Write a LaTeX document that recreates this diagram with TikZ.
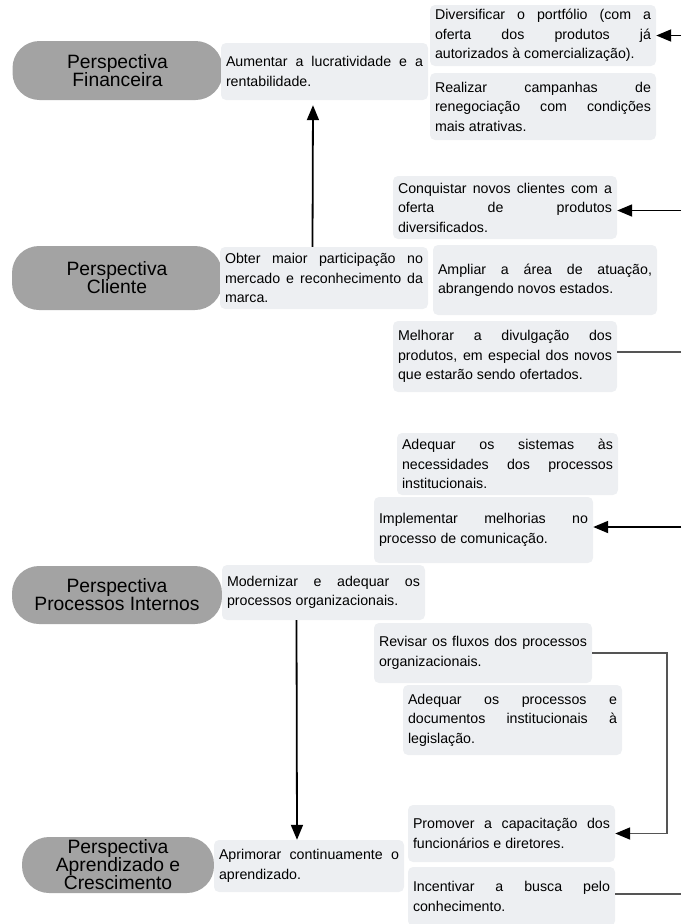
\documentclass[tikz,border=0pt]{standalone}
\usepackage{fontspec}
\setmainfont{Liberation Sans}
\usetikzlibrary{arrows.meta}
\definecolor{blobgray}{HTML}{A3A3A3}
\definecolor{boxfill}{HTML}{EDEFF2}
\definecolor{linegray}{HTML}{555555}
\hbadness=10000
\hyphenpenalty=10000

\tikzset{
  persp/.style={fill=blobgray, rounded corners=27pt, inner sep=0pt,
    minimum width=210pt, align=center, font=\fontsize{19.3}{18}\selectfont},
  obj/.style={fill=boxfill, rounded corners=5pt, inner xsep=5pt, inner ysep=2pt,
    align=justify, font=\fontsize{14.2}{19.5}\selectfont},
  arr/.style={line width=1.8pt, -{Triangle[length=15pt,width=12pt,color=black,fill=black]}},
  grayline/.style={line width=2pt, draw=linegray},
}

\begin{document}
\begin{tikzpicture}[x=1pt,y=-1pt]
    \useasboundingbox (0,0) rectangle (681,924);
    \coordinate (redge) at (681,0);
    \coordinate (bend) at (667,0);

    \node[persp, minimum height=59pt] (fin) at (117.5,70.5) {Perspectiva\\Financeira};
    \node[persp, minimum height=64pt] (cli) at (117,278) {Perspectiva\\Cliente};
    \node[persp, minimum height=58pt] (pro) at (117,595) {Perspectiva\\Processos Internos};
    \node[persp, minimum height=56pt, minimum width=192pt] (apr) at (118,865) {Perspectiva\\Aprendizado e\\Crescimento};

    \node[obj, text width=197pt, minimum height=57pt] (aum) at (324.5,71.5) {Aumentar a lucratividade e a\linebreak rentabilidade.};
    \node[obj, text width=216pt, minimum height=61pt] (div) at (543,35.5) {Diversificar o portfólio (com a\linebreak oferta dos produtos já\linebreak autorizados à comercialização).};
    \node[obj, text width=216pt, minimum height=67pt] (ren) at (543,106.5) {Realizar campanhas de\linebreak renegociação com condições\linebreak mais atrativas.};

    \node[obj, text width=214pt, minimum height=63pt] (con) at (505,207.5) {Conquistar novos clientes com a\linebreak oferta de produtos\linebreak diversificados.};
    \node[obj, text width=198pt, minimum height=62pt] (obt) at (324,278) {Obter maior participação no\linebreak mercado e reconhecimento da\linebreak marca.};
    \node[obj, text width=214pt, minimum height=70pt] (amp) at (545,280) {Ampliar a área de atuação,\linebreak abrangendo novos estados.};
    \node[obj, text width=214pt, minimum height=71pt] (mel) at (505,356.5) {Melhorar a divulgação dos\linebreak produtos, em especial dos novos\linebreak que estarão sendo ofertados.};

    \node[obj, text width=211pt, minimum height=62pt] (sis) at (507.5,464) {Adequar os sistemas às\linebreak necessidades dos processos\linebreak institucionais.};
    \node[obj, text width=209pt, minimum height=66pt] (imp) at (483.5,530) {Implementar melhorias no\linebreak processo de comunicação.};
    \node[obj, text width=193pt, minimum height=55pt] (mod) at (323.5,592.5) {Modernizar e adequar os\linebreak processos organizacionais.};
    \node[obj, text width=208pt, minimum height=60pt] (rev) at (483,653) {Revisar os fluxos dos processos\linebreak organizacionais.};
    \node[obj, text width=209pt, minimum height=70pt] (leg) at (512.5,720) {Adequar os processos e\linebreak documentos institucionais à\linebreak legislação.};

    \node[obj, text width=197pt, minimum height=57pt] (cap) at (511.5,833.5) {Promover a capacitação dos\linebreak funcionários e diretores.};
    \node[obj, text width=180pt, minimum height=52pt] (apm) at (309,866) {Aprimorar continuamente o\linebreak aprendizado.};
    \node[obj, text width=197pt, minimum height=59pt] (inc) at (511.5,896.5) {Incentivar a busca pelo\linebreak conhecimento.};

    \coordinate (divEnd) at (div.east -| redge);
    \coordinate (conEnd) at ([yshift=-3pt]con.east -| redge);
    \coordinate (melEnd) at ([yshift=5pt]mel.east -| redge);
    \coordinate (impEnd) at ([yshift=3pt]imp.east -| redge);
    \coordinate (incEnd) at ([yshift=3pt]inc.east -| redge);

    \draw[arr, shorten >=5pt] ([xshift=-11.5pt]obt.north) -- ([xshift=-11.5pt]aum.south);
    \draw[arr] ([xshift=-27pt]mod.south) -- ([xshift=-12pt]apm.north);

    \draw[arr] (divEnd) -- (div.east);
    \draw[arr] (conEnd) -- (con.east |- conEnd);
    \draw[grayline] (melEnd) -- (mel.east |- melEnd);
    \draw[arr] (impEnd) -- (imp.east |- impEnd);
    \draw[grayline, arr] (rev.east) -- (rev.east -| bend) |- (cap.east);
    \draw[grayline] (inc.east |- incEnd) -- (incEnd);
\end{tikzpicture}
\end{document}
